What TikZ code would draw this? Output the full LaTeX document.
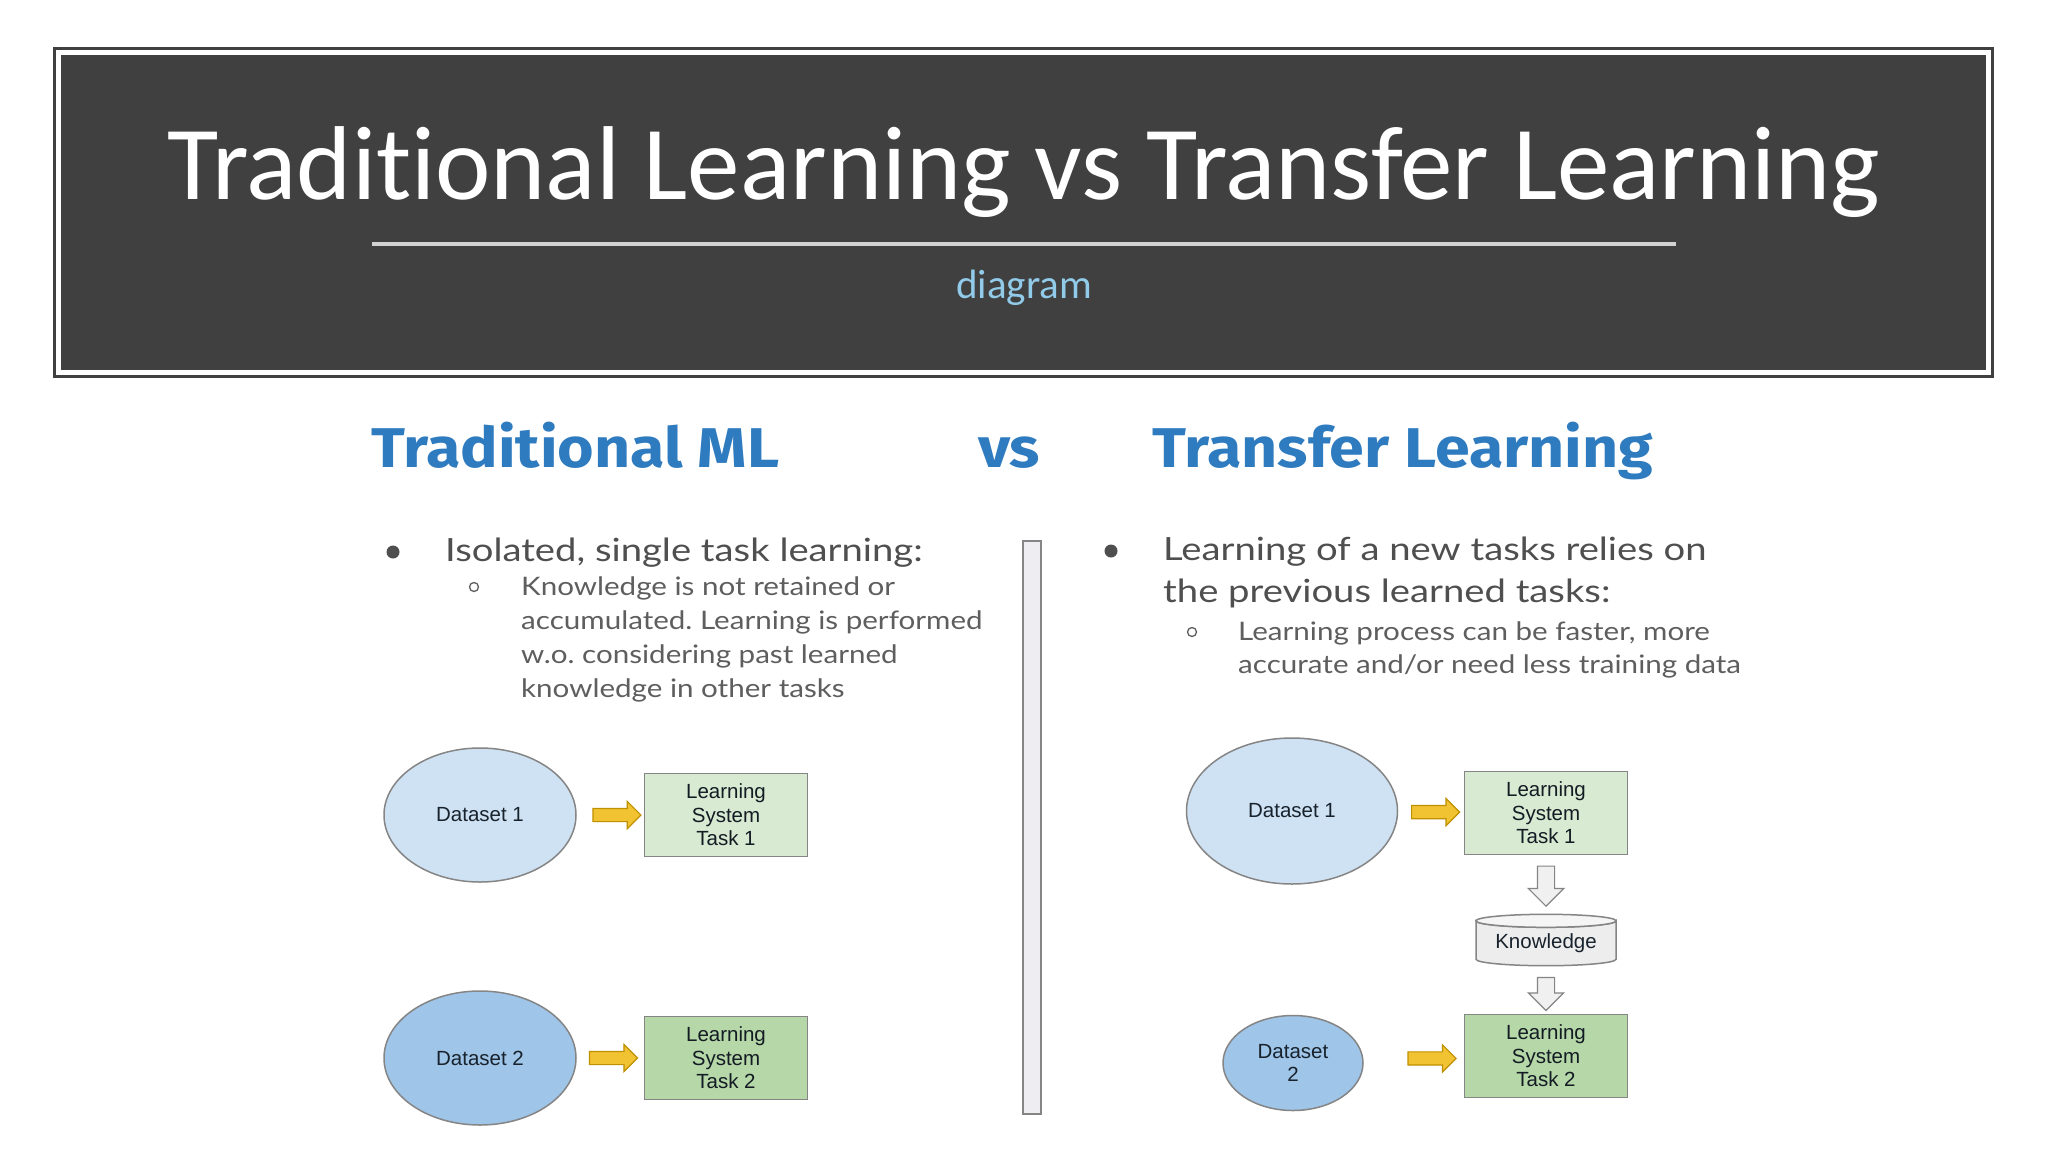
\documentclass[tikz,border=0pt]{standalone}
\usepackage{fontspec}
\setmainfont{Lato}
\newfontfamily\bodyfont[FakeStretch=1.16]{Lato}
\newfontfamily\mainfont[FakeStretch=1.195]{Lato}
\newfontfamily\titlefont[Ligatures=NoCommon]{Carlito}
\newfontfamily\headfont[FakeStretch=1.12]{Fira Sans}
\newfontfamily\diafont{Liberation Sans}
\usetikzlibrary{shapes.geometric,shapes.arrows,calc}
\frenchspacing
\definecolor{framecol}{HTML}{404040}
\definecolor{rulecol}{HTML}{D2D2D2}
\definecolor{subcol}{HTML}{92CBE9}
\definecolor{headcol}{HTML}{2E7BBF}
\definecolor{bodycol}{HTML}{4F4F4F}
\definecolor{subtext}{HTML}{5E5E5E}
\definecolor{dsone}{HTML}{CFE2F3}
\definecolor{dstwo}{HTML}{9FC5E8}
\definecolor{taskone}{HTML}{D9EAD3}
\definecolor{tasktwo}{HTML}{B6D7A8}
\definecolor{edgecol}{HTML}{858585}
\definecolor{yfill}{HTML}{F1C232}
\definecolor{yedge}{HTML}{BF9000}
\definecolor{barfill}{HTML}{EEEEF2}
\definecolor{diatext}{HTML}{18222C}
\tikzset{
  dataset/.style={ellipse, draw=edgecol, line width=1.5pt, inner sep=0pt,
    font=\diafont\fontsize{20.5}{23.5}\selectfont, text=diatext, align=center},
  taskbox/.style={rectangle, draw=edgecol, line width=1.5pt, minimum width=163pt,
    minimum height=83pt, inner sep=0pt, font=\diafont\fontsize{20.5}{23.5}\selectfont,
    text=diatext!80!black, align=center},
  yarrow/.style={single arrow, fill=yfill, draw=yedge, line width=1.2pt,
    minimum height=48pt, inner xsep=0pt, inner ysep=6pt,
    single arrow head extend=7pt},
  warrow/.style={single arrow, fill=white!94!black, draw=edgecol, line width=1.2pt,
    inner xsep=8pt, inner ysep=0pt, single arrow head extend=9pt,
    shape border rotate=270},
  heading/.style={anchor=base west, inner sep=0pt, text=headcol,
    font=\headfont\bfseries\fontsize{56}{60}\selectfont},
  bodytext/.style={anchor=base west, inner sep=0pt, text=bodycol,
    font=\mainfont\fontsize{32}{42}\selectfont},
  subbody/.style={anchor=base west, inner sep=0pt, text=subtext,
    font=\bodyfont\fontsize{25.5}{34}\selectfont},
}
\begin{document}
\begin{tikzpicture}[x=1pt,y=-1pt]
\useasboundingbox (0,0) rectangle (2048,1152);
\fill[white] (0,0) rectangle (2048,1152);
% title banner
\draw[framecol, line width=2.5pt] (54.5,48.5) rectangle (1992.5,376.5);
\fill[framecol] (61,55) rectangle (1986,370);
\node[anchor=base, inner sep=0pt, text=white, font=\titlefont\fontsize{105}{110}\selectfont]
  (title) at (1024,199) {Traditional Learning vs Transfer Learning};
\draw[rulecol, line width=4pt] (372,244) -- (1676,244);
\node[anchor=base, inner sep=0pt, text=subcol, font=\titlefont\fontsize{41}{44}\selectfont]
  (subtitle) at (1024,298) {diagram};
% headings
\node[heading] (h1) at (371,467) {Traditional ML};
\node[heading] (h2) at (978,467) {vs};
\node[heading] (h3) at (1152,467) {Transfer Learning};
% separator bar
\draw[edgecol, fill=barfill, line width=1.5pt] (1023,541) rectangle (1041,1114);
% left bullets
\fill[bodycol] (393pt,-552pt) circle (6.5pt);
\node[bodytext] (lb1) at (445,561) {Isolated, single task learning:};
\draw[subtext, line width=1.3pt] (474pt,-587pt) circle (4.5pt);
\node[subbody] (lb2) at (521,595) {\begin{tabular}[t]{@{}l@{}}Knowledge is not retained or\\accumulated. Learning is performed\\w.o. considering past learned\\knowledge in other tasks\end{tabular}};
% right bullets
\fill[bodycol] (1111pt,-551pt) circle (6.5pt);
\node[bodytext] (rb1) at (1163,560) {\begin{tabular}[t]{@{}l@{}}Learning of a new tasks relies on\\the previous learned tasks:\end{tabular}};
\draw[subtext, line width=1.3pt] (1192pt,-632pt) circle (4.5pt);
\node[subbody, font=\bodyfont\fontsize{25.5}{33}\selectfont] (rb2) at (1238,640) {\begin{tabular}[t]{@{}l@{}}Learning process can be faster, more\\accurate and/or need less training data\end{tabular}};
% left diagram
\node[dataset, fill=dsone, minimum width=192pt, minimum height=134pt] (L1) at (480,815) {Dataset 1};
\node[taskbox, fill=taskone] (LT1) at (726,815) {Learning\\System\\Task 1};
\node[dataset, fill=dstwo, minimum width=192pt, minimum height=134pt] (L2) at (480,1058) {Dataset 2};
\node[taskbox, fill=tasktwo] (LT2) at (726,1058) {Learning\\System\\Task 2};
\node[yarrow] (la1) at ($(L1.east)!0.55!(LT1.west)$) {};
\node[yarrow] (la2) at ($(L2.east)!0.5!(LT2.west)$) {};
% right diagram
\node[dataset, fill=dsone, minimum width=211pt, minimum height=146pt] (R1) at (1292,811) {Dataset 1};
\node[taskbox, fill=taskone] (RT1) at (1546,813) {Learning\\System\\Task 1};
\node[inner sep=0pt, minimum width=140pt, minimum height=51pt] (kn) at (1546,940) {};
\path (kn.north) ++(0,6.5) coordinate (kt);
\path (kn.south) ++(0,-6.5) coordinate (kb);
\filldraw[fill=white!93!black, draw=edgecol, line width=1.5pt]
  ([xshift=-70pt]kt) -- ([xshift=-70pt]kb) arc (180:360:70pt and 6.5pt)
  -- ([xshift=70pt]kt) arc (0:-180:70pt and 6.5pt) -- cycle;
\draw[edgecol, fill=white!96!black, line width=1.5pt] (kt) ellipse (70pt and 6.5pt);
\node[font=\diafont\fontsize{20.5}{23.5}\selectfont, text=diatext, inner sep=0pt] (kntext) at ($(kn.center)+(0,3)$) {Knowledge};
\node[dataset, fill=dstwo, minimum width=140pt, minimum height=95pt] (R2) at (1293,1063) {Dataset\\2};
\node[taskbox, fill=tasktwo] (RT2) at (1546,1056) {Learning\\System\\Task 2};
\node[yarrow] (ra1) at ($(R1.east)!0.52!(RT1.west)$) {};
\node[yarrow] (ra2) at ($(R2.east)!0.65!(RT2.west)$) {};
\node[warrow, minimum height=40pt] (da1) at ($(RT1.south)!0.45!(kn.north)$) {};
\node[warrow, minimum height=33pt] (da2) at ($(kn.south)!0.5!(RT2.north)$) {};
\end{tikzpicture}
\end{document}
